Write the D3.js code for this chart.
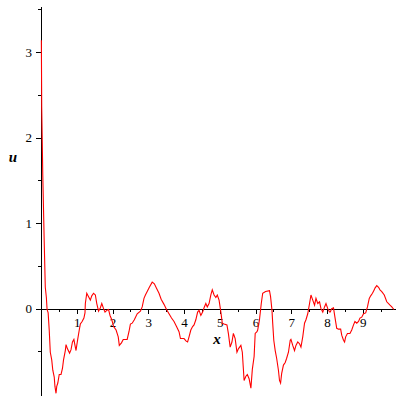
<!DOCTYPE html>
<html>
<head>
<meta charset="utf-8">
<script src="https://cdn.jsdelivr.net/npm/d3@7"></script>
<style>
  body { margin: 0; background: #fff; }
  svg { display: block; }
</style>
</head>
<body>
<svg width="400" height="400"></svg>
<script>
// curve u(x)
const xValues = [0.01, 0.02, 0.05, 0.09, 0.12, 0.15, 0.17, 0.20, 0.23, 0.26, 0.30, 0.33, 0.37, 0.39, 0.42,
  0.44, 0.47, 0.51, 0.56, 0.60, 0.63, 0.68, 0.70, 0.74, 0.80, 0.84, 0.88, 0.92, 0.95, 0.98,
  1.00, 1.03, 1.07, 1.10, 1.15, 1.20, 1.23, 1.24, 1.28, 1.33, 1.38, 1.42, 1.47, 1.52, 1.56,
  1.61, 1.66, 1.70, 1.75, 1.79, 1.84, 1.89, 1.93, 1.98, 2.03, 2.10, 2.16, 2.19, 2.25, 2.30,
  2.41, 2.46, 2.50, 2.55, 2.61, 2.69, 2.78, 2.83, 2.88, 2.92, 2.97, 3.03, 3.11, 3.17, 3.23,
  3.30, 3.36, 3.44, 3.51, 3.58, 3.65, 3.72, 3.79, 3.86, 3.90, 4.00, 4.06, 4.10, 4.14, 4.19,
  4.24, 4.28, 4.33, 4.38, 4.42, 4.47, 4.52, 4.56, 4.61, 4.65, 4.70, 4.75, 4.79, 4.84, 4.89,
  4.93, 4.98, 5.03, 5.07, 5.12, 5.20, 5.24, 5.29, 5.34, 5.38, 5.43, 5.48, 5.52, 5.59, 5.63,
  5.68, 5.73, 5.77, 5.82, 5.87, 5.91, 5.96, 5.99, 6.04, 6.06, 6.11, 6.16, 6.20, 6.28, 6.39,
  6.42, 6.46, 6.48, 6.51, 6.55, 6.59, 6.64, 6.67, 6.70, 6.73, 6.78, 6.83, 6.87, 6.92, 6.97,
  6.99, 7.04, 7.09, 7.13, 7.18, 7.23, 7.27, 7.32, 7.37, 7.41, 7.46, 7.51, 7.55, 7.60, 7.65,
  7.69, 7.74, 7.79, 7.83, 7.88, 7.93, 7.97, 8.02, 8.07, 8.09, 8.13, 8.18, 8.22, 8.27, 8.32,
  8.38, 8.41, 8.46, 8.49, 8.52, 8.57, 8.64, 8.69, 8.74, 8.78, 8.83, 8.88, 8.92, 8.97, 9.02,
  9.08, 9.13, 9.18, 9.22, 9.27, 9.32, 9.34, 9.39, 9.44, 9.48, 9.53, 9.60, 9.67, 9.76, 9.81,
  9.87];
const uValues = [3.14, 2.36, 1.56, 0.78, 0.25, 0.13, -0.01, -0.05, -0.25, -0.51, -0.60, -0.72, -0.80, -0.91, -0.99,
  -0.91, -0.87, -0.77, -0.77, -0.70, -0.60, -0.49, -0.42, -0.47, -0.52, -0.48, -0.39, -0.36, -0.43, -0.49,
  -0.43, -0.35, -0.25, -0.18, -0.15, -0.11, -0.05, 0.06, 0.18, 0.14, 0.10, 0.15, 0.18, 0.16, 0.06,
  -0.03, 0.01, 0.06, 0.00, -0.04, -0.02, -0.01, -0.08, -0.13, -0.21, -0.25, -0.33, -0.43, -0.40, -0.36,
  -0.36, -0.27, -0.18, -0.17, -0.13, -0.06, -0.03, 0.02, 0.12, 0.16, 0.20, 0.25, 0.31, 0.29, 0.24,
  0.18, 0.11, 0.05, -0.01, -0.06, -0.11, -0.15, -0.21, -0.27, -0.35, -0.35, -0.38, -0.39, -0.33, -0.25,
  -0.21, -0.19, -0.13, -0.04, -0.02, -0.08, -0.04, 0.01, 0.06, 0.02, 0.06, 0.16, 0.22, 0.16, 0.13,
  0.16, 0.10, -0.04, -0.17, -0.18, -0.19, -0.29, -0.45, -0.39, -0.29, -0.35, -0.51, -0.47, -0.43, -0.51,
  -0.84, -0.79, -0.77, -0.82, -0.93, -0.71, -0.56, -0.29, -0.27, -0.25, -0.13, 0.06, 0.18, 0.20, 0.21,
  0.14, -0.02, -0.17, -0.37, -0.49, -0.58, -0.72, -0.84, -0.87, -0.76, -0.66, -0.63, -0.58, -0.51, -0.37,
  -0.36, -0.43, -0.49, -0.43, -0.39, -0.41, -0.45, -0.33, -0.17, -0.13, -0.06, 0.06, 0.16, 0.10, 0.04,
  0.12, 0.06, 0.08, 0.00, -0.04, 0.02, 0.06, 0.00, -0.04, -0.04, 0.00, 0.01, -0.10, -0.23, -0.24,
  -0.24, -0.31, -0.37, -0.39, -0.33, -0.29, -0.29, -0.25, -0.19, -0.15, -0.17, -0.15, -0.11, -0.10, -0.06,
  -0.05, 0.02, 0.12, 0.15, 0.18, 0.22, 0.24, 0.27, 0.25, 0.22, 0.20, 0.16, 0.08, 0.04, 0.02,
  -0.01];

const xTicks = [1, 2, 3, 4, 5, 6, 7, 8, 9];
const xMinor = [0.5, 1.5, 2.5, 3.5, 4.5, 5.5, 6.5, 7.5, 8.5, 9.5];
const yTicks = [0, 1, 2, 3];
const yMinor = [-0.5, 0.5, 1.5, 2.5, 3.5];

var svg = d3.select("svg");

const x = d3.scaleLinear().domain([0, 9.9]).range([41, 395]);
const y = d3.scaleLinear().domain([-1.01, 3.54]).range([395, 6]);

const font = "'Liberation Serif', 'Times New Roman', serif";

// minor ticks first (no labels)
svg.append("g")
    .attr("transform", `translate(0,${y(0)})`)
    .call(d3.axisBottom(x).tickValues(xMinor).tickSize(3).tickSizeOuter(0).tickFormat(""))
    .call(g => g.select(".domain").remove());

svg.append("g")
    .attr("transform", `translate(${x(0)},0)`)
    .call(d3.axisLeft(y).tickValues(yMinor).tickSize(3).tickSizeOuter(0).tickFormat(""))
    .call(g => g.select(".domain").remove());

// main axes
var xAxis = svg.append("g")
    .attr("transform", `translate(0,${y(0)})`)
    .call(d3.axisBottom(x).tickValues(xTicks).tickSize(5).tickSizeOuter(0).tickPadding(4).tickFormat(d3.format("d")));

var yAxis = svg.append("g")
    .attr("transform", `translate(${x(0)},0)`)
    .call(d3.axisLeft(y).tickValues(yTicks).tickSize(5).tickSizeOuter(0).tickPadding(4).tickFormat(d3.format("d")));

svg.selectAll(".tick text")
    .attr("font-family", font)
    .attr("font-size", 13)
    .attr("fill", "#000");
svg.selectAll(".domain, .tick line").attr("stroke", "#000").attr("shape-rendering", "crispEdges");

// curve
const line = d3.line()
    .x((d, i) => x(xValues[i]))
    .y(d => y(d));

svg.append("path")
    .datum(uValues)
    .attr("fill", "none")
    .attr("stroke", "#ff0000")
    .attr("stroke-width", 1.1)
    .attr("d", line);

// axis titles
svg.append("text")
    .attr("x", 217)
    .attr("y", 344)
    .attr("text-anchor", "middle")
    .attr("font-family", font)
    .attr("font-style", "italic")
    .attr("font-weight", "bold")
    .attr("font-size", 15)
    .text("x");

svg.append("text")
    .attr("x", 13)
    .attr("y", 162)
    .attr("text-anchor", "middle")
    .attr("font-family", font)
    .attr("font-style", "italic")
    .attr("font-weight", "bold")
    .attr("font-size", 15)
    .text("u");
</script>
</body>
</html>
